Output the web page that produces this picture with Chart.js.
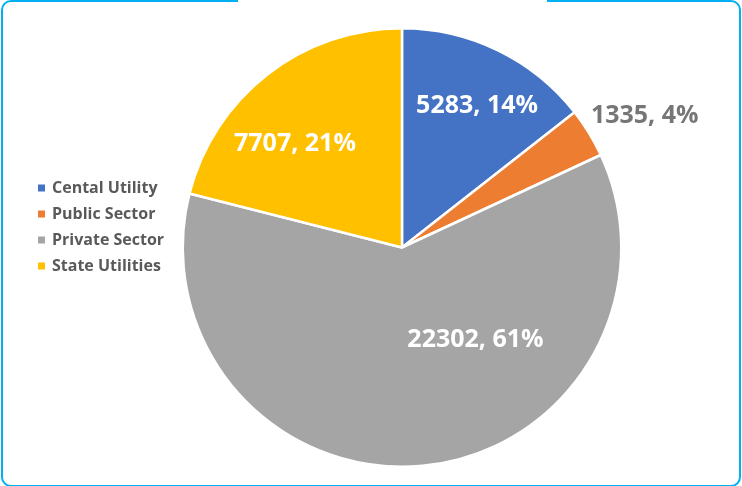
<!DOCTYPE html>
<html>
<head>
<meta charset="utf-8">
<script src="https://cdn.jsdelivr.net/npm/chart.js@4.4.1/dist/chart.umd.min.js"></script>
<style>
    html, body { margin: 0; padding: 0; background: #fff; overflow: hidden; }
    #wrap { position: relative; width: 742px; height: 486px; }
    #frame {
        position: absolute; left: 1px; top: 0px; width: 740px; height: 487px;
        box-sizing: border-box; border: 2.5px solid #00B0F0; border-radius: 10px;
    }
    #gap { position: absolute; left: 238px; top: 0; width: 309px; height: 5px; background: #fff; }
    #pie { position: absolute; left: 0; top: 0; }
</style>
</head>
<body>
<div id="wrap">
    <div id="frame"></div>
    <div id="gap"></div>
    <canvas id="pie" width="742" height="486"></canvas>
</div>
<script>
let categories = ['Cental Utility', 'Public Sector', 'Private Sector', 'State Utilities'];
let capacity = [5283, 1335, 22302, 7707];
let percent_labels = ['14%', '4%', '61%', '21%'];
let slice_colors = ['#4472C4', '#ED7D31', '#A5A5A5', '#FFC000'];

// where each data label sits: angle shift from the slice middle (deg) and fraction of radius
let label_place = [
    { shift: 2, frac: 0.73, color: '#ffffff' },
    { shift: 3, frac: 1.26, color: '#767676' },
    { shift: -33, frac: 0.54, color: '#ffffff' },
    { shift: -8, frac: 0.68, color: '#ffffff' }
];

const pieLabels = {
    id: 'pieLabels',
    afterDatasetsDraw(chart) {
        let ctx = chart.ctx;
        let meta = chart.getDatasetMeta(0);
        ctx.save();
        ctx.font = "bold 25px 'Open Sans'";
        ctx.textAlign = 'center';
        ctx.textBaseline = 'middle';
        meta.data.forEach((arc, i) => {
            let p = arc.getProps(['x', 'y', 'startAngle', 'endAngle', 'outerRadius'], true);
            let mid = (p.startAngle + p.endAngle) / 2 + label_place[i].shift * Math.PI / 180;
            let r = p.outerRadius * label_place[i].frac;
            ctx.fillStyle = label_place[i].color;
            ctx.fillText(`${capacity[i]}, ${percent_labels[i]}`, p.x + Math.cos(mid) * r, p.y + Math.sin(mid) * r);
        });
        ctx.restore();
    }
};

const sideLegend = {
    id: 'sideLegend',
    afterDraw(chart) {
        let ctx = chart.ctx;
        ctx.save();
        ctx.font = "bold 16px 'Open Sans'";
        ctx.textBaseline = 'middle';
        ctx.textAlign = 'left';
        chart.data.labels.forEach((lab, i) => {
            let y = 188 + i * 26;
            ctx.fillStyle = slice_colors[i];
            ctx.fillRect(38, y - 3.5, 7, 7);
            ctx.fillStyle = '#595959';
            ctx.fillText(lab, 52, y);
        });
        ctx.restore();
    }
};

let chart = new Chart(document.getElementById('pie'), {
    type: 'pie',
    data: {
        labels: categories,
        datasets: [{
            data: capacity,
            backgroundColor: slice_colors,
            borderColor: '#ffffff',
            borderWidth: 2.5
        }]
    },
    options: {
        responsive: false,
        animation: false,
        layout: { padding: { left: 62, right: 0, top: 27, bottom: 18 } },
        plugins: {
            legend: { display: false },
            tooltip: { enabled: false }
        }
    },
    plugins: [pieLabels, sideLegend]
});
</script>
</body>
</html>
